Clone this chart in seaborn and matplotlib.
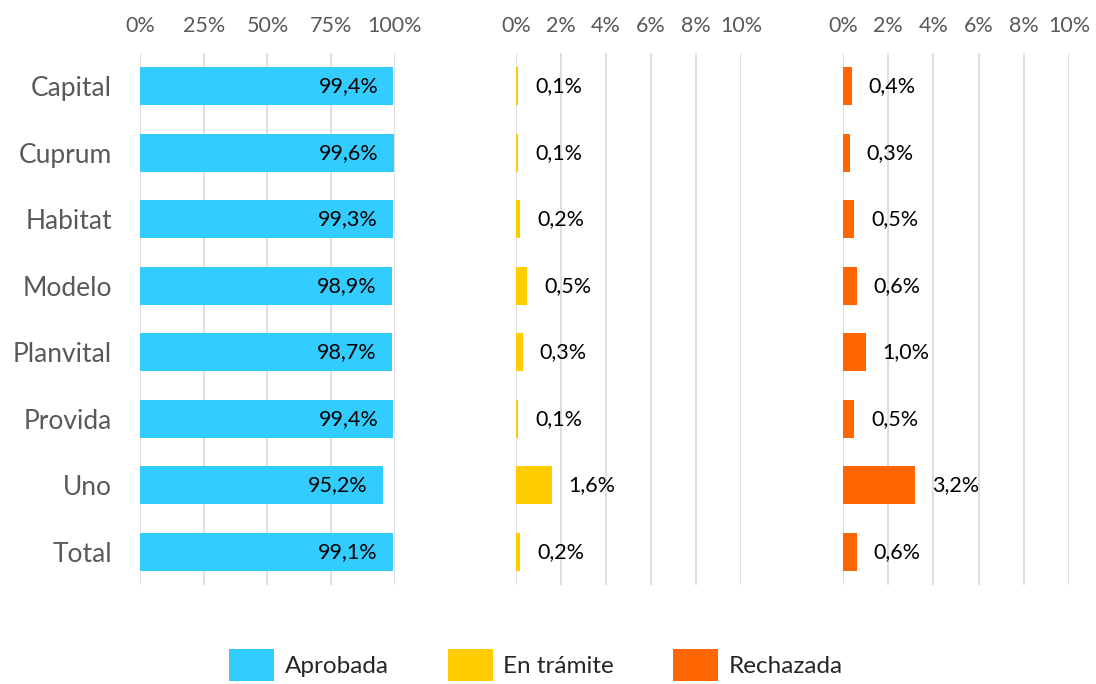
import matplotlib
matplotlib.use("Agg")
import matplotlib.pyplot as plt
import matplotlib.ticker as ticker
from matplotlib.patches import Patch
import seaborn as sns
import pandas as pd

# Datos
afps = ["Capital", "Cuprum", "Habitat", "Modelo", "Planvital", "Provida", "Uno", "Total"]
aprobada = [99.4, 99.6, 99.3, 98.9, 98.7, 99.4, 95.2, 99.1]
en_tramite = [0.1, 0.1, 0.2, 0.5, 0.3, 0.1, 1.6, 0.2]
rechazada = [0.4, 0.3, 0.5, 0.6, 1.0, 0.5, 3.2, 0.6]

series = ["Aprobada", "En trámite", "Rechazada"]
colores = ["#33CCFF", "#FFCC00", "#FF6600"]

df = pd.DataFrame({"afp": afps, "Aprobada": aprobada,
                   "En trámite": en_tramite, "Rechazada": rechazada})

sns.set_style("white")
plt.rcParams["font.family"] = ["Lato", "DejaVu Sans"]

gris = "#595959"
fig = plt.figure(figsize=(10.96, 6.84), dpi=100)

bottom, height = 0.1447, 0.778
posiciones = [(0.1277, 0.2327), (0.4708, 0.2053), (0.7692, 0.2062)]
limites = [(0, 100, 25), (0, 10, 2), (0, 10, 2)]

for i, (serie, color) in enumerate(zip(series, colores)):
    left, width = posiciones[i]
    ax = fig.add_axes([left, bottom, width, height])
    sns.barplot(data=df, x=serie, y="afp", color=color, width=0.57,
                saturation=1, orient="h", linewidth=0, ax=ax)
    lo, hi, paso = limites[i]
    ax.set_xlim(lo, hi)
    ax.set_xticks(range(lo, hi + 1, paso))
    ax.xaxis.set_major_formatter(ticker.FuncFormatter(lambda v, p: f"{v:.0f}%"))
    ax.xaxis.tick_top()
    ax.tick_params(axis="x", length=0, pad=12, labelsize=15.5, labelcolor=gris)
    ax.grid(axis="x", color="#D9D9D9", linewidth=1.2)
    ax.set_axisbelow(True)
    for s in ax.spines.values():
        s.set_visible(False)
    ax.set_xlabel("")
    ax.set_ylabel("")

    etiquetas = [f"{v:.1f}%".replace(".", ",") for v in df[serie]]
    if i == 0:
        ax.tick_params(axis="y", length=0, pad=20, labelsize=19, labelcolor=gris)
        ax.bar_label(ax.containers[0], labels=etiquetas, padding=-54,
                     fontsize=15.5, color="black")
    else:
        ax.set_yticklabels([])
        ax.tick_params(axis="y", length=0)
        ax.bar_label(ax.containers[0], labels=etiquetas, padding=12,
                     fontsize=15.5, color="black")

handles = [Patch(facecolor=c, edgecolor="none") for c in colores]
fig.legend(handles, series, loc="center", bbox_to_anchor=(0.489, 0.028),
           ncol=3, frameon=False, fontsize=17.5, handlelength=1.85,
           handleheight=1.65, handletextpad=0.45, columnspacing=2.4)

fig.savefig("out.png", dpi=100)
